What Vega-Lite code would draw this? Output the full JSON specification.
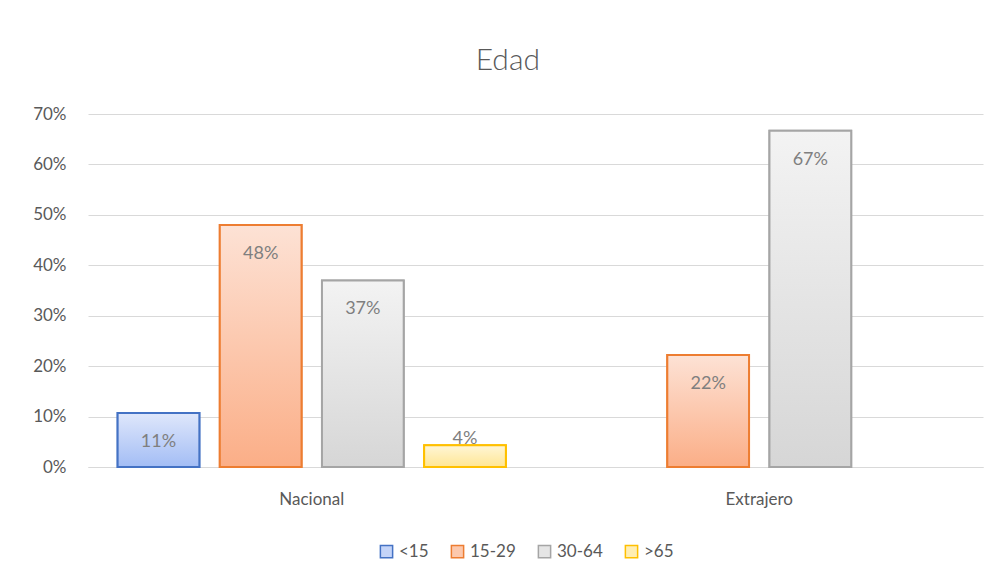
{
  "$schema": "https://vega.github.io/schema/vega-lite/v6.json",
  "autosize": {"type": "none"},
  "width": 895,
  "height": 353,
  "padding": {"left": 88, "right": 20, "top": 114, "bottom": 116},
  "background": "white",
  "config": {
    "font": "Lato",
    "view": {"stroke": null},
    "axis": {"labelColor": "#595959", "labelFont": "Lato", "labelFontSize": 17, "gridColor": "#d9d9d9", "domainColor": "#d9d9d9", "ticks": false, "title": null}
  },
  "title": {"text": "Edad", "fontSize": 30, "font": "Lato", "fontWeight": 300, "color": "#595959", "offset": 29, "anchor": "middle", "frame": "bounds"},
  "data": {"values": [
    {"Group": "Nacional", "Series": "<15", "Value": 0.107},
    {"Group": "Nacional", "Series": "15-29", "Value": 0.48},
    {"Group": "Nacional", "Series": "30-64", "Value": 0.37},
    {"Group": "Nacional", "Series": ">65", "Value": 0.043},
    {"Group": "Extrajero", "Series": "15-29", "Value": 0.222},
    {"Group": "Extrajero", "Series": "30-64", "Value": 0.667}
  ]},
  "encoding": {
    "x": {"field": "Group", "type": "nominal", "sort": ["Nacional", "Extrajero"],
      "scale": {"paddingInner": 0, "paddingOuter": 0},
      "axis": {"labelAngle": 0, "labelPadding": 24, "domain": true, "grid": false}},
    "xOffset": {"field": "Series", "type": "nominal",
      "scale": {"domain": ["<15", "15-29", "30-64", ">65"], "paddingInner": 0.2, "paddingOuter": 0.29}},
    "y": {"field": "Value", "type": "quantitative",
      "scale": {"domain": [0, 0.7]},
      "axis": {"format": ".0%", "values": [0, 0.1, 0.2, 0.3, 0.4, 0.5, 0.6, 0.7], "domain": false, "labelPadding": 22, "grid": true}}
  },
  "layer": [
    {
      "mark": {"type": "bar", "strokeWidth": 2},
      "encoding": {
        "fill": {"field": "Series", "type": "nominal",
          "scale": {"domain": ["<15", "15-29", "30-64", ">65"], "range": ["#c4d4f8", "#fcc8ad", "#e5e5e5", "#ffeeb3"]},
          "legend": {"orient": "none", "legendX": 290, "legendY": 429, "direction": "horizontal", "title": null, "symbolType": "square", "symbolSize": 150, "symbolStrokeWidth": 1.5, "labelFontSize": 17, "labelColor": "#595959", "labelFont": "Lato", "columnPadding": 19, "labelOffset": 4}},
        "stroke": {"field": "Series", "type": "nominal",
          "scale": {"domain": ["<15", "15-29", "30-64", ">65"], "range": ["#4472c4", "#ed7d31", "#a5a5a5", "#ffc000"]}}
      }
    },
    {
      "transform": [{"filter": "datum.Series == '<15'"}],
      "mark": {"type": "bar", "strokeWidth": 2, "stroke": "#4472c4",
        "fill": {"gradient": "linear", "x1": 0, "y1": 0, "x2": 0, "y2": 1, "stops": [{"offset": 0, "color": "#dfe7fb"}, {"offset": 1, "color": "#a3bdf5"}]}}
    },
    {
      "transform": [{"filter": "datum.Series == '15-29'"}],
      "mark": {"type": "bar", "strokeWidth": 2, "stroke": "#ed7d31",
        "fill": {"gradient": "linear", "x1": 0, "y1": 0, "x2": 0, "y2": 1, "stops": [{"offset": 0, "color": "#fde2d5"}, {"offset": 1, "color": "#fbae87"}]}}
    },
    {
      "transform": [{"filter": "datum.Series == '30-64'"}],
      "mark": {"type": "bar", "strokeWidth": 2, "stroke": "#a5a5a5",
        "fill": {"gradient": "linear", "x1": 0, "y1": 0, "x2": 0, "y2": 1, "stops": [{"offset": 0, "color": "#f3f3f3"}, {"offset": 1, "color": "#d6d6d6"}]}}
    },
    {
      "transform": [{"filter": "datum.Series == '>65'"}],
      "mark": {"type": "bar", "strokeWidth": 2, "stroke": "#ffc000",
        "fill": {"gradient": "linear", "x1": 0, "y1": 0, "x2": 0, "y2": 1, "stops": [{"offset": 0, "color": "#fff6d6"}, {"offset": 1, "color": "#ffe694"}]}}
    },
    {
      "transform": [{"filter": "datum.Value >= 0.08"}],
      "mark": {"type": "text", "baseline": "middle", "dy": 29, "fontSize": 18, "color": "#7f7f7f"},
      "encoding": {"text": {"field": "Value", "type": "quantitative", "format": ".0%"}}
    },
    {
      "transform": [{"filter": "datum.Value < 0.08"}],
      "mark": {"type": "text", "baseline": "middle", "dy": -6, "fontSize": 18, "color": "#7f7f7f"},
      "encoding": {"text": {"field": "Value", "type": "quantitative", "format": ".0%"}}
    }
  ]
}
